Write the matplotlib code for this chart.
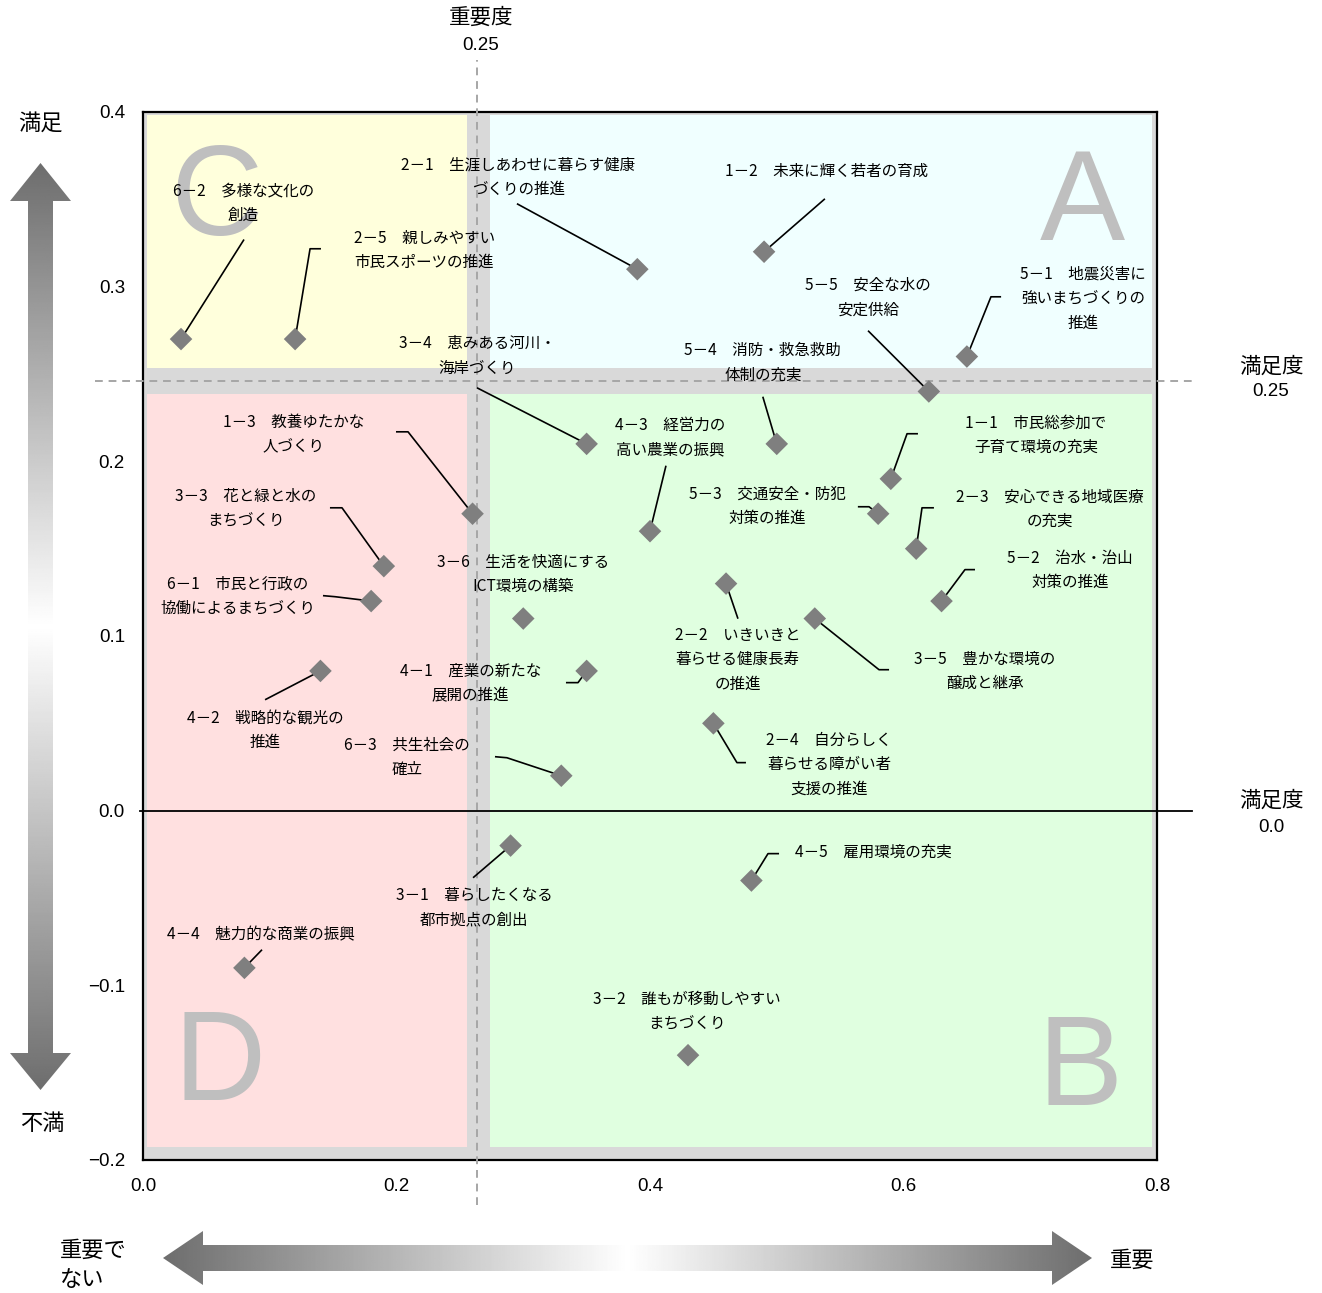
import numpy as np
import matplotlib
matplotlib.use("Agg")
import matplotlib.pyplot as plt
from matplotlib.patches import Rectangle, Polygon

plt.rcParams['font.family'] = ['Noto Sans CJK JP', 'DejaVu Sans']
LATIN = ['Liberation Sans', 'DejaVu Sans']

# ---- data -----------------------------------------------------------------
codes = ["1－1", "1－2", "1－3", "2－1", "2－2", "2－3", "2－4", "2－5",
         "3－1", "3－2", "3－3", "3－4", "3－5", "3－6",
         "4－1", "4－2", "4－3", "4－4", "4－5",
         "5－1", "5－2", "5－3", "5－4", "5－5",
         "6－1", "6－2", "6－3"]
names = ["市民総参加で\n子育て環境の充実",
         "未来に輝く若者の育成",
         "教養ゆたかな\n人づくり",
         "生涯しあわせに暮らす健康\nづくりの推進",
         "いきいきと\n暮らせる健康長寿\nの推進",
         "安心できる地域医療\nの充実",
         "自分らしく\n暮らせる障がい者\n支援の推進",
         "親しみやすい\n市民スポーツの推進",
         "暮らしたくなる\n都市拠点の創出",
         "誰もが移動しやすい\nまちづくり",
         "花と緑と水の\nまちづくり",
         "恵みある河川・\n海岸づくり",
         "豊かな環境の\n醸成と継承",
         "生活を快適にする\nICT環境の構築",
         "産業の新たな\n展開の推進",
         "戦略的な観光の\n推進",
         "経営力の\n高い農業の振興",
         "魅力的な商業の振興",
         "雇用環境の充実",
         "地震災害に\n強いまちづくりの\n推進",
         "治水・治山\n対策の推進",
         "交通安全・防犯\n対策の推進",
         "消防・救急救助\n体制の充実",
         "安全な水の\n安定供給",
         "市民と行政の\n協働によるまちづくり",
         "多様な文化の\n創造",
         "共生社会の\n確立"]
importance = [0.59, 0.49, 0.26, 0.39, 0.46, 0.61, 0.45, 0.12,
              0.29, 0.43, 0.19, 0.35, 0.53, 0.30,
              0.35, 0.14, 0.40, 0.08, 0.48,
              0.65, 0.63, 0.58, 0.50, 0.62,
              0.18, 0.03, 0.33]
satisfaction = [0.19, 0.32, 0.17, 0.31, 0.13, 0.15, 0.05, 0.27,
                -0.02, -0.14, 0.14, 0.21, 0.11, 0.11,
                0.08, 0.08, 0.16, -0.09, -0.04,
                0.26, 0.12, 0.17, 0.21, 0.24,
                0.12, 0.27, 0.02]

x_ticks = [0.0, 0.2, 0.4, 0.6, 0.8]
y_ticks = [-0.2, -0.1, 0.0, 0.1, 0.2, 0.3, 0.4]
importance_threshold_label = "0.25"
satisfaction_threshold_label = "0.25"

# ---- label layout (text centre, then leader start / elbow) -----------------
label_pos = [(0.7045, 0.2147), (0.5396, 0.3663), (0.119, 0.2152), (0.296, 0.3629),
             (0.4694, 0.0864), (0.7156, 0.1723), (0.5412, 0.0263), (0.222, 0.3206),
             (0.2611, -0.0555), (0.429, -0.115), (0.0813, 0.1729), (0.2635, 0.2604),
             (0.6643, 0.0796), (0.2998, 0.1351), (0.2584, 0.0727), (0.0963, 0.0458),
             (0.4158, 0.2135), (0.0931, -0.0710), (0.576, -0.024), (0.7416, 0.2931),
             (0.7313, 0.1374), (0.4923, 0.174), (0.489, 0.2564), (0.572, 0.2937),
             (0.075, 0.1231), (0.079, 0.348), (0.2083, 0.0303)]
leaders = [[(0.6114, 0.2158), (0.6028, 0.2158)],
           [(0.538, 0.3503)],
           [(0.1996, 0.2169), (0.2091, 0.2169)],
           [(0.295, 0.3475)],
           [(0.4694, 0.1099)],
           [(0.624, 0.1734), (0.6146, 0.1734)],
           [(0.4757, 0.0275), (0.4686, 0.0275)],
           [(0.1404, 0.3217), (0.1318, 0.3217)],
           [(0.2604, -0.0384)],
           [],
           [(0.1475, 0.1734), (0.157, 0.1734)],
           [(0.2635, 0.2421)],
           [(0.5886, 0.0807), (0.5807, 0.0807)],
           [],
           [(0.3337, 0.0733), (0.3432, 0.0733)],
           [(0.0963, 0.0635)],
           [(0.4126, 0.1975)],
           [(0.0939, -0.0796)],
           [(0.5018, -0.0246), (0.4931, -0.0246)],
           [(0.677, 0.2942), (0.669, 0.2942)],
           [(0.6564, 0.138), (0.6485, 0.138)],
           [(0.564, 0.174), (0.5728, 0.174)],
           [(0.489, 0.237)],
           [(0.572, 0.2748)],
           [(0.142, 0.1231), (0.1515, 0.1225)],
           [(0.0797, 0.327)],
           [(0.2777, 0.0309), (0.2871, 0.0303)]]

W, H = 1322, 1293
fig = plt.figure(figsize=(W / 100, H / 100), dpi=100)


def fpos(px, py):
    return px / W, 1 - py / H


# ---- overlay for decorations outside the plot ------------------------------
ov = fig.add_axes([0, 0, 1, 1], zorder=0)
ov.set_xlim(0, W)
ov.set_ylim(H, 0)
ov.axis('off')


def grad_arrow(poly, extent, horizontal):
    n = 512
    t = np.linspace(0, 1, n)
    v = np.abs(t - 0.5) * 2            # 1 at ends, 0 at centre
    dark, light = 0.43, 1.0
    g = light - (light - dark) * v
    img = g[None, :] if horizontal else g[:, None]
    im = ov.imshow(img, cmap='gray', vmin=0, vmax=1, extent=extent,
                   aspect='auto', interpolation='bilinear', zorder=1)
    patch = Polygon(poly, closed=True, transform=ov.transData,
                    facecolor='none', edgecolor='none')
    ov.add_patch(patch)
    im.set_clip_path(patch)


# vertical satisfaction arrow
vx, vt, vb = 40.5, 163, 1090
vpoly = [(vx, vt), (71, 201), (53, 201), (53, 1053), (71, 1053), (vx, vb),
         (10, 1053), (28, 1053), (28, 201), (10, 201)]
grad_arrow(vpoly, (10, 71, vb, vt), horizontal=False)

# horizontal importance arrow
hy = 1258
hpoly = [(163, hy), (203, 1231), (203, 1245), (1052, 1245), (1052, 1231),
         (1092, hy), (1052, 1285), (1052, 1271), (203, 1271), (203, 1285)]
grad_arrow(hpoly, (163, 1092, 1285, 1231), horizontal=True)
ov.set_xlim(0, W)
ov.set_ylim(H, 0)

fig.text(*fpos(40, 123), "満足", ha='center', va='center', fontsize=16)
fig.text(*fpos(42, 1123), "不満", ha='center', va='center', fontsize=16)
fig.text(*fpos(60, 1250), "重要で", ha='left', va='center', fontsize=16)
fig.text(*fpos(60, 1279), "ない", ha='left', va='center', fontsize=16)
fig.text(*fpos(1132, 1260), "重要", ha='center', va='center', fontsize=16)
fig.text(*fpos(481, 18), "重要度", ha='center', va='center', fontsize=15.5)
fig.text(*fpos(481, 45), importance_threshold_label, ha='center', va='center',
         fontsize=13.5, family=LATIN)
fig.text(*fpos(1271, 367), "満足度", ha='center', va='center', fontsize=15.5)
fig.text(*fpos(1271, 392), satisfaction_threshold_label, ha='center', va='center',
         fontsize=13.5, family=LATIN)
fig.text(*fpos(1271, 801), "満足度", ha='center', va='center', fontsize=15.5)
fig.text(*fpos(1271, 827), "0.0", ha='center', va='center',
         fontsize=13.5, family=LATIN)

# ---- main scatter axes -----------------------------------------------------
ax = fig.add_axes([143 / W, 1 - 1160 / H, (1157 - 143) / W, (1160 - 112) / H],
                  zorder=1)
ax.set_xlim(0, 0.8)
ax.set_ylim(-0.2, 0.4)
ax.set_facecolor('#D9D9D9')
for s in ax.spines.values():
    s.set_linewidth(1.6)
    s.set_color('black')
ax.set_xticks(x_ticks)
ax.set_yticks(y_ticks)
ax.set_xticklabels([f"{v:.1f}" for v in x_ticks], family=LATIN, fontsize=13.5)
ax.set_yticklabels([f"{v:.1f}".replace('-', '−') for v in y_ticks],
                   family=LATIN, fontsize=13.5)
ax.tick_params(axis='both', length=0)
ax.tick_params(axis='y', pad=13)
ax.tick_params(axis='x', pad=13)

# quadrant fills separated by grey bands
xl, xg0, xg1, xr = 0.0035, 0.2556, 0.2738, 0.796
yt, yg1, yg0, yb = 0.3984, 0.2536, 0.2387, -0.1923
quads = [((xl, yg1), xg0 - xl, yt - yg1, '#FFFFDC'),   # C
         ((xg1, yg1), xr - xg1, yt - yg1, '#F0FFFF'),  # A
         ((xl, yb), xg0 - xl, yg0 - yb, '#FFE0E0'),    # D
         ((xg1, yb), xr - xg1, yg0 - yb, '#E0FFE0')]   # B
for (x0, y0), w, h, c in quads:
    ax.add_patch(Rectangle((x0, y0), w, h, facecolor=c, edgecolor='none', zorder=1))

letter_kw = dict(fontsize=92, color='#BFBFBF', family=LATIN, ha='center',
                 va='baseline', zorder=2)
ax.text(0.7408, 0.3268, "A", **letter_kw)
ax.text(0.7392, -0.1683, "B", **letter_kw)
ax.text(0.0584, 0.3297, "C", **letter_kw)
ax.text(0.0607, -0.1654, "D", **letter_kw)

# threshold guides
xc, yc = 0.2635, 0.2461
dash = dict(color='#A6A6A6', lw=1.4, ls=(0, (4, 3)), clip_on=False, zorder=3)
ax.plot([xc, xc], [-0.2255, 0.43], **dash)
ax.plot([-0.0379, 0.8276], [yc, yc], **dash)
ax.plot([-0.0024, 0.8276], [0, 0], color='black', lw=1.3, clip_on=False, zorder=3)

# leaders and labels
for i in range(len(codes)):
    tx, ty = label_pos[i]
    ax.text(tx, ty, f"{codes[i]}　{names[i]}", ha='center', va='center',
            fontsize=11.2, linespacing=1.55, zorder=5)
    pts = leaders[i]
    if pts:
        xs = [p[0] for p in pts] + [importance[i]]
        ys = [p[1] for p in pts] + [satisfaction[i]]
        ax.plot(xs, ys, color='black', lw=1.2, zorder=4,
                solid_capstyle='butt')

ax.scatter(importance, satisfaction, marker='D', s=11.5 ** 2, color='#7F7F7F',
           edgecolors='none', zorder=6)

fig.savefig("out.png", dpi=100)
